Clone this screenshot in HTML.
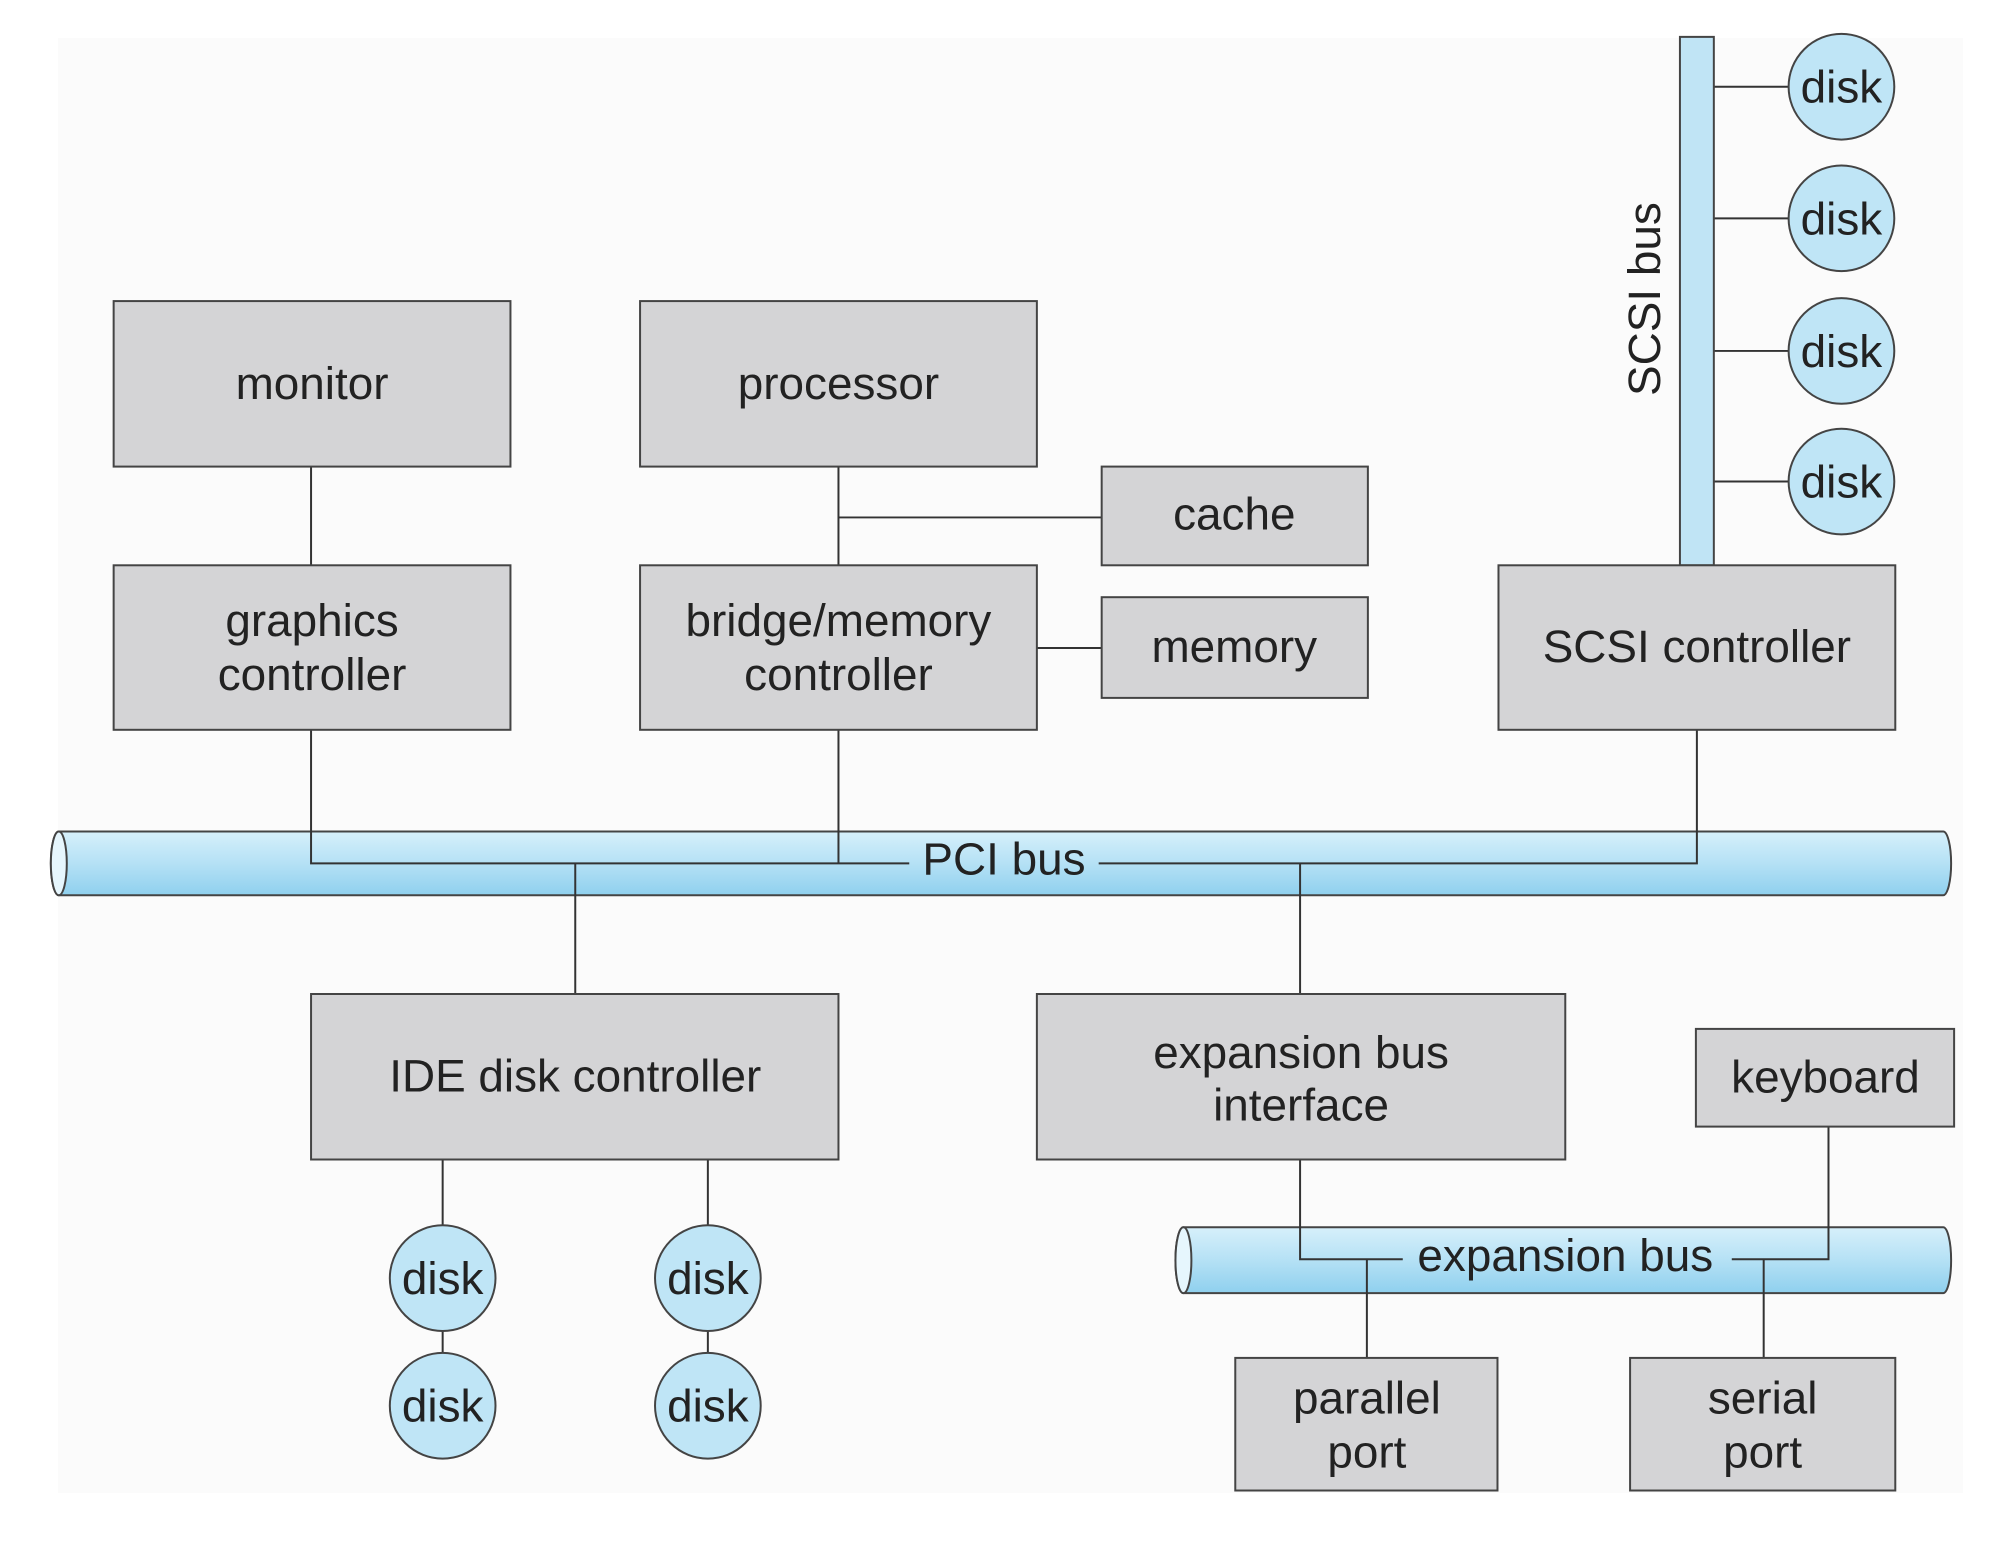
<!DOCTYPE html>
<html><head><meta charset="utf-8"><style>
html,body{margin:0;padding:0;background:#fff;}
svg{display:block}
text{font-family:"Liberation Sans",sans-serif;font-size:46px;fill:#222;text-anchor:middle}
</style></head><body>
<svg width="2003" height="1555" viewBox="0 0 2003 1555" xmlns="http://www.w3.org/2000/svg">
<defs>
<linearGradient id="bus" x1="0" y1="0" x2="0" y2="1">
<stop offset="0" stop-color="#d6f0fb"/><stop offset="0.5" stop-color="#b5e1f5"/><stop offset="1" stop-color="#8fd0ee"/>
</linearGradient>
</defs>
<rect x="58" y="38" width="1905" height="1455" fill="#fbfbfb"/>
<g transform="translate(-3,-2) scale(0.997,0.997)">
<g stroke="#333" stroke-width="2" fill="none">
<line x1="315" y1="470" x2="315" y2="569"/>
<line x1="844" y1="470" x2="844" y2="569"/>
<line x1="844" y1="521" x2="1108" y2="521"/>
<line x1="1043" y1="652" x2="1108" y2="652"/>
<line x1="1722" y1="89" x2="1797" y2="89"/>
<line x1="1722" y1="221" x2="1797" y2="221"/>
<line x1="1722" y1="354" x2="1797" y2="354"/>
<line x1="1722" y1="485" x2="1797" y2="485"/>
<line x1="447" y1="1165" x2="447" y2="1412"/>
<line x1="713" y1="1165" x2="713" y2="1412"/>
</g>
<path d="M62,836 H1952 A8,32 0 0 1 1952,900 H62 A8,32 0 0 1 62,836 Z" fill="url(#bus)" stroke="#444" stroke-width="2"/>
<ellipse cx="62" cy="868" rx="8" ry="32" fill="#e6f6fd" stroke="#444" stroke-width="2"/>
<path d="M1190,1233 H1952 A8,33 0 0 1 1952,1299 H1190 A8,33 0 0 1 1190,1233 Z" fill="url(#bus)" stroke="#444" stroke-width="2"/>
<ellipse cx="1190" cy="1266" rx="8" ry="33" fill="#e6f6fd" stroke="#444" stroke-width="2"/>
<rect x="1688" y="39" width="34" height="530" fill="#c0e4f5" stroke="#444" stroke-width="2"/>
<text transform="translate(1668,302) rotate(-90)">SCSI bus</text>
<g stroke="#333" stroke-width="2" fill="none">
<path d="M315,734 V868 H915"/>
<path d="M844,734 V868"/>
<path d="M1105,868 H1705 V734"/>
<line x1="580" y1="868" x2="580" y2="999"/>
<line x1="1307" y1="868" x2="1307" y2="999"/>
<path d="M1307,1165 V1265 H1410"/>
<path d="M1374,1265 V1364"/>
<path d="M1740,1265 H1837 V1132"/>
<line x1="1772" y1="1265" x2="1772" y2="1364"/>
</g>
<g fill="#d4d4d6" stroke="#444" stroke-width="2">
<rect x="117" y="304" width="398" height="166"/>
<rect x="645" y="304" width="398" height="166"/>
<rect x="117" y="569" width="398" height="165"/>
<rect x="645" y="569" width="398" height="165"/>
<rect x="1108" y="470" width="267" height="99"/>
<rect x="1108" y="601" width="267" height="101"/>
<rect x="1506" y="569" width="398" height="165"/>
<rect x="315" y="999" width="529" height="166"/>
<rect x="1043" y="999" width="530" height="166"/>
<rect x="1704" y="1034" width="259" height="98"/>
<rect x="1242" y="1364" width="263" height="133"/>
<rect x="1638" y="1364" width="266" height="133"/>
</g>
<g fill="#bfe5f6" stroke="#444" stroke-width="2">
<circle cx="1850" cy="89" r="53"/><circle cx="1850" cy="221" r="53"/>
<circle cx="1850" cy="354" r="53"/><circle cx="1850" cy="485" r="53"/>
<circle cx="447" cy="1284" r="53"/><circle cx="447" cy="1412" r="53"/>
<circle cx="713" cy="1284" r="53"/><circle cx="713" cy="1412" r="53"/>
</g>
<text x="1010" y="879">PCI bus</text>
<text x="1573" y="1277">expansion bus</text>
<text x="316" y="402">monitor</text>
<text x="844" y="402">processor</text>
<text x="316" y="640">graphics</text>
<text x="316" y="694">controller</text>
<text x="844" y="640">bridge/memory</text>
<text x="844" y="694">controller</text>
<text x="1241" y="533">cache</text>
<text x="1241" y="666">memory</text>
<text x="1705" y="666">SCSI controller</text>
<text x="580" y="1097">IDE disk controller</text>
<text x="1308" y="1073">expansion bus</text>
<text x="1308" y="1126">interface</text>
<text x="1834" y="1098">keyboard</text>
<text x="1374" y="1420">parallel</text>
<text x="1374" y="1474">port</text>
<text x="1771" y="1420">serial</text>
<text x="1771" y="1474">port</text>
<g>
<text x="1850" y="105">disk</text><text x="1850" y="237">disk</text>
<text x="1850" y="370">disk</text><text x="1850" y="501">disk</text>
<text x="447" y="1300">disk</text><text x="447" y="1428">disk</text>
<text x="713" y="1300">disk</text><text x="713" y="1428">disk</text>
</g>
</g>
</svg>
</body></html>
